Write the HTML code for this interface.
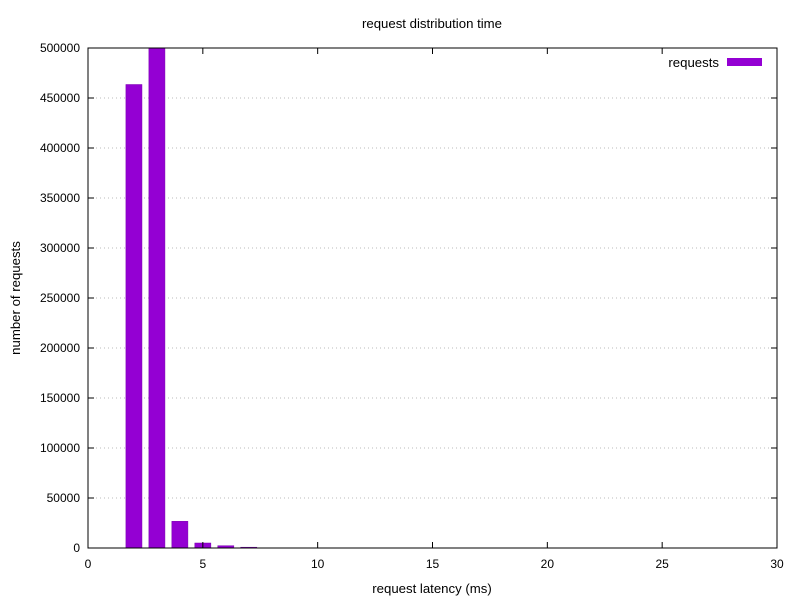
<!DOCTYPE html>
<html><head><meta charset="utf-8"><style>body{margin:0;background:#fff}svg{display:block;font-family:"Liberation Sans",sans-serif;font-size:12px}.big{font-size:13.2px}</style></head>
<body>
<svg id="c" width="800" height="600">
<rect width="800" height="600" fill="#fff"/>
<text class="big" x="432" y="28" text-anchor="middle">request distribution time</text>
<text class="big" x="432" y="593" text-anchor="middle">request latency (ms)</text>
<text class="big" transform="translate(20,298) rotate(-90)" text-anchor="middle">number of requests</text>
<g id="grid"></g><g id="bars"></g><g id="axes"></g>
<text class="big" x="719" y="67" text-anchor="end">requests</text>
<rect x="727" y="58" width="35" height="8" fill="#9400d3"/>
</svg>
<script>
const categories=[2,3,4,5,6,7];
const values=[463500,510000,26700,5000,2300,800];
const xTicks=[0,5,10,15,20,25,30];
const yTicks=[0,50000,100000,150000,200000,250000,300000,350000,400000,450000,500000];
const L=88,R=777,T=48,B=548,XMAX=30,YMAX=500000;
const sx=v=>L+(R-L)*v/XMAX, sy=v=>B-(B-T)*Math.min(v,YMAX)/YMAX;
const NS="http://www.w3.org/2000/svg";
function mk(tag,a,p){const e=document.createElementNS(NS,tag);for(const k in a)e.setAttribute(k,a[k]);p.appendChild(e);return e;}
const grid=document.getElementById('grid'),bars=document.getElementById('bars'),axes=document.getElementById('axes');
yTicks.forEach(v=>{const y=sy(v);
 if(v>0&&v<YMAX){const g=mk('line',{x1:L,x2:R,y1:y,y2:y,stroke:'#bbb','stroke-dasharray':'1,3'},grid);
 
 }
 mk('line',{x1:L,x2:L+6,y1:y,y2:y,stroke:'#000'},axes);
 mk('line',{x1:R,x2:R-6,y1:y,y2:y,stroke:'#000'},axes);
 const t=mk('text',{x:L-8,y:y+4,'text-anchor':'end'},axes);t.textContent=v;
 
 });
xTicks.forEach(v=>{const x=sx(v);
 mk('line',{x1:x,x2:x,y1:B,y2:B-6,stroke:'#000'},axes);
 mk('line',{x1:x,x2:x,y1:T,y2:T+6,stroke:'#000'},axes);
 const t=mk('text',{x:x,y:B+20,'text-anchor':'middle'},axes);t.textContent=v;
 
 });
mk('rect',{x:L,y:T,width:R-L,height:B-T,fill:'none',stroke:'#000'},axes);
const bw=0.7*(R-L)/XMAX;
categories.forEach((c,i)=>{const y=sy(values[i]);
 const b=mk('rect',{x:sx(c)-bw/2,y:y,width:bw,height:B-y,fill:'#9400d3',stroke:'#7a00b0','stroke-width':0.5},bars);
 
 });
</script>
</body></html>
